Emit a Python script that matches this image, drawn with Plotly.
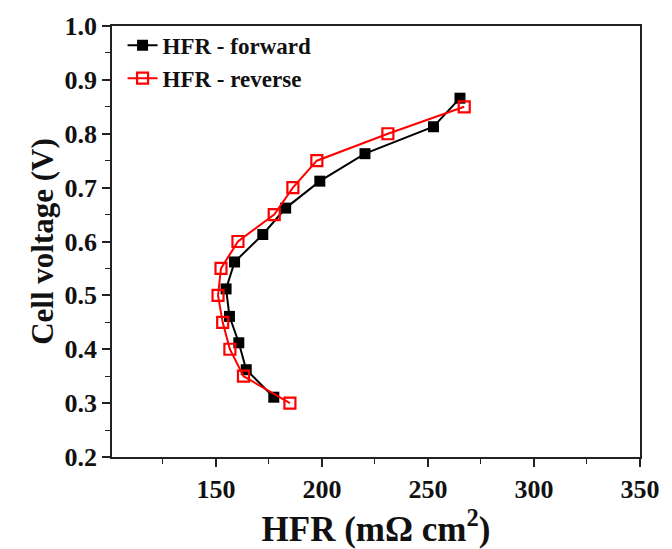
import plotly.graph_objects as go

# HFR vs. cell voltage, forward and reverse polarization sweeps
fwd_hfr = [265.1, 252.6, 220.3, 199.0, 182.9, 172.1, 158.8, 154.8, 156.4, 160.8, 164.3, 177.3]
fwd_v = [0.866, 0.813, 0.763, 0.712, 0.662, 0.613, 0.562, 0.512, 0.461, 0.412, 0.362, 0.311]

rev_hfr = [267.1, 231.1, 197.6, 186.3, 177.5, 160.4, 152.4, 151.0, 153.2, 156.6, 163.0, 184.9]
rev_v = [0.85, 0.80, 0.75, 0.70, 0.65, 0.60, 0.55, 0.50, 0.45, 0.40, 0.35, 0.30]

x_ticks = [150, 200, 250, 300, 350]
y_ticks = [0.2, 0.3, 0.4, 0.5, 0.6, 0.7, 0.8, 0.9, 1.0]

serif = "Liberation Serif"

fig = go.Figure()
fig.add_trace(go.Scatter(
    x=fwd_hfr, y=fwd_v, mode="lines+markers", name="<b>HFR - forward</b>",
    line=dict(color="black", width=2),
    marker=dict(symbol="square", size=11, color="black"),
))
fig.add_trace(go.Scatter(
    x=rev_hfr, y=rev_v, mode="lines+markers", name="<b>HFR - reverse</b>",
    line=dict(color="#ff0000", width=2),
    marker=dict(symbol="square-open", size=11, color="#ff0000", line=dict(width=2.2)),
))

axis_common = dict(
    showline=True, linecolor="#222", linewidth=1.5, mirror=True,
    ticks="outside", ticklen=8, tickwidth=1.5, tickcolor="#222",
    showgrid=False, zeroline=False,
    tickfont=dict(family=serif, size=26, color="#111"),
)

fig.update_xaxes(
    range=[101, 350], tickvals=x_ticks, ticktext=[f"<b>{v}</b>" for v in x_ticks],
    minor=dict(ticks="outside", ticklen=5, tickwidth=1.2, tickcolor="#222", dtick=25, tick0=0),
    title=dict(text="<b>HFR (mΩ cm<sup>2</sup>)</b>", font=dict(family=serif, size=35, color="#111"), standoff=8),
    **axis_common,
)
fig.update_yaxes(
    range=[0.2, 1.0], tickvals=y_ticks, ticktext=[f"<b>{v:.1f}</b>" for v in y_ticks],
    minor=dict(ticks="outside", ticklen=5, tickwidth=1.2, tickcolor="#222", dtick=0.05, tick0=0),
    title=dict(text="<b>Cell voltage (V)</b>", font=dict(family=serif, size=31, color="#111"), standoff=2),
    **axis_common,
)

fig.update_layout(
    width=672, height=549,
    margin=dict(l=112, r=24, t=26, b=92),
    paper_bgcolor="white", plot_bgcolor="white",
    showlegend=True,
    legend=dict(
        x=0.02, y=1.005, xanchor="left", yanchor="top",
        bgcolor="rgba(0,0,0,0)",
        font=dict(family=serif, size=23, color="#111"),
    ),
)

fig.write_html("out.html")
